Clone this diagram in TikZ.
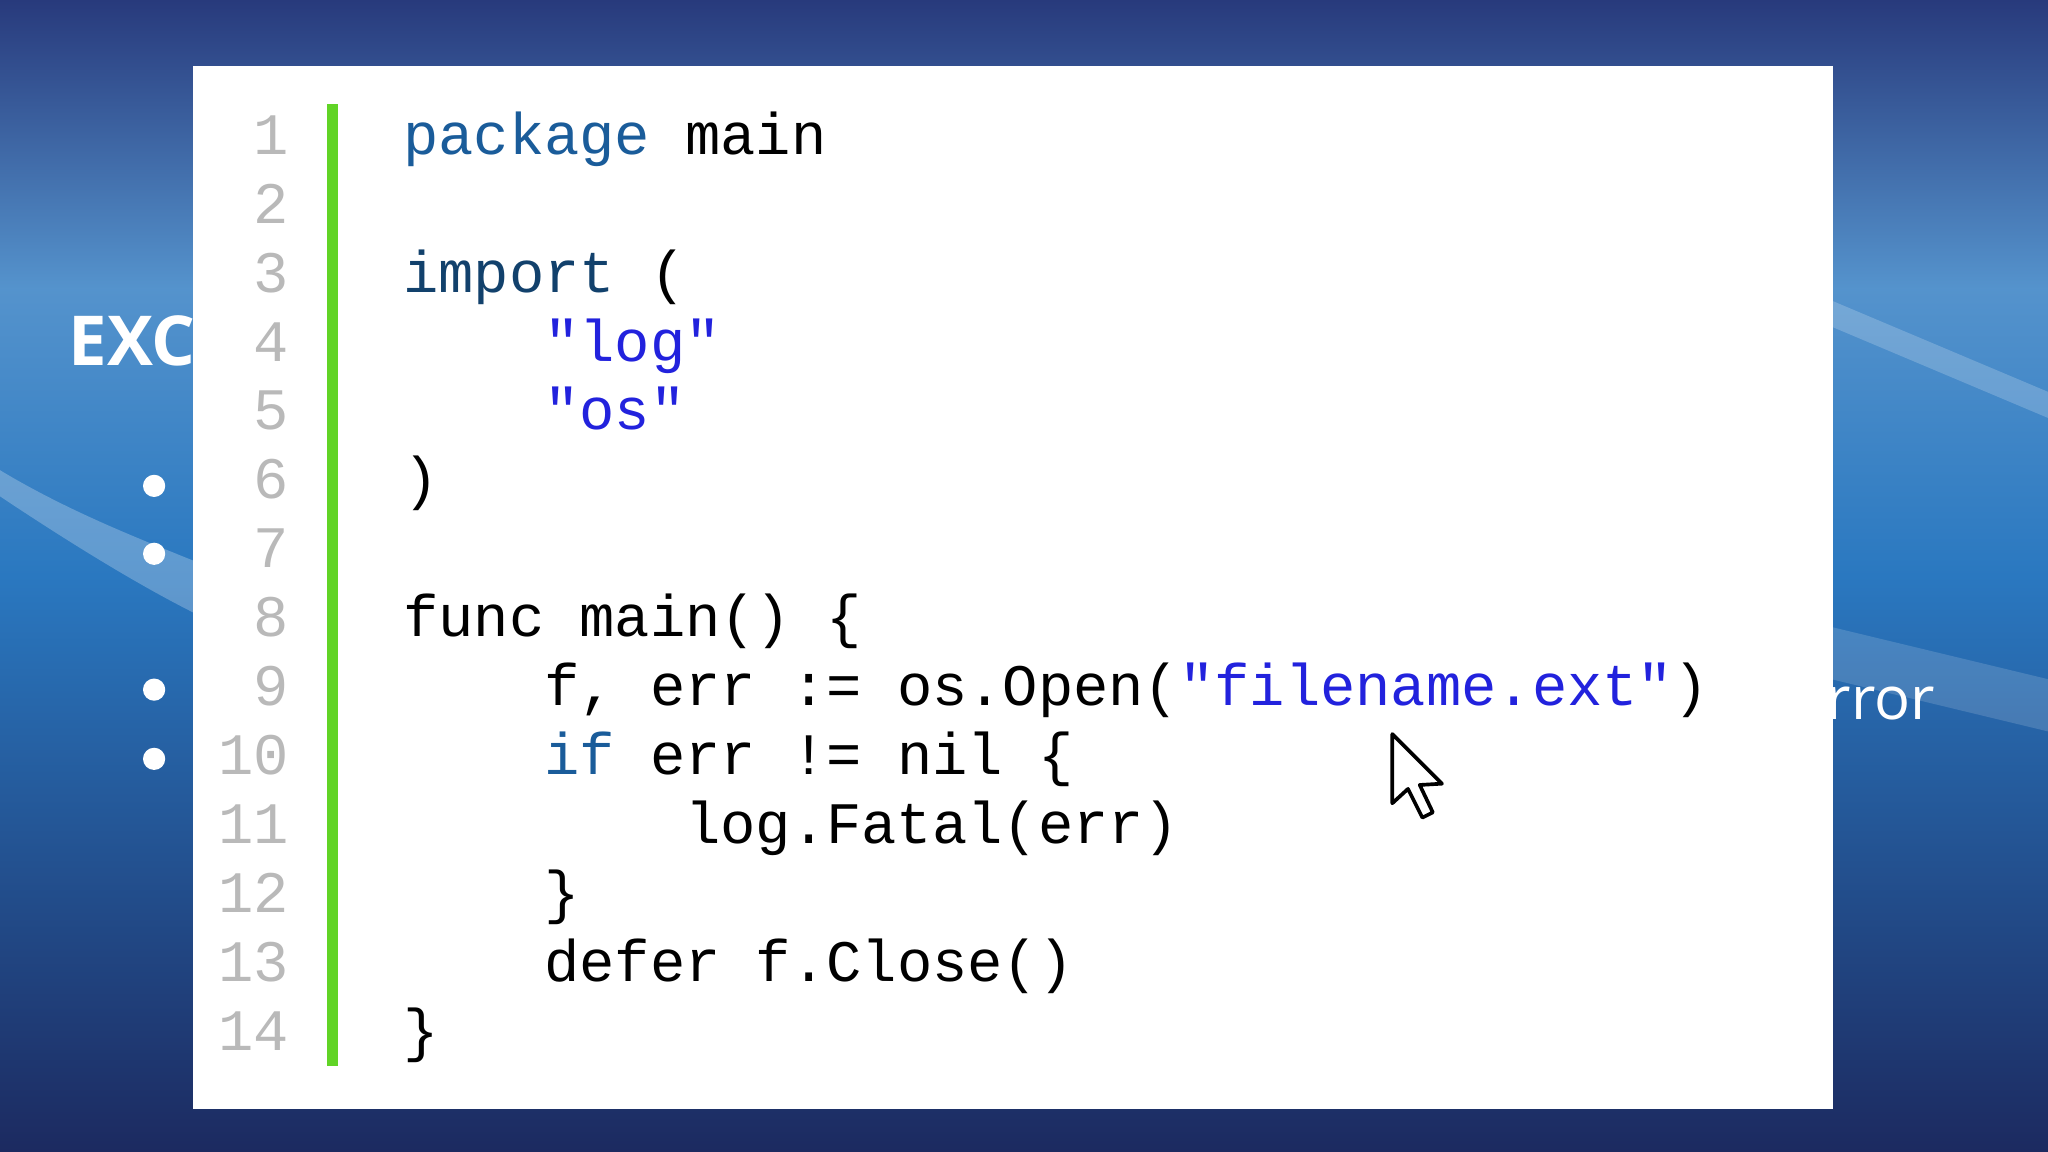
\documentclass[tikz,border=0pt]{standalone}
\usepackage{fontspec}
\setmainfont{Open Sans}
\newfontfamily\codefont{Liberation Mono}
\begin{document}
\begin{tikzpicture}[x=0.01cm,y=-0.01cm,
  ln/.style={anchor=base east,inner sep=0,font=\codefont\fontsize{12.8}{14}\selectfont,text=gray!55},
  cd/.style={anchor=base west,inner sep=0,font=\codefont\fontsize{12.8}{14}\selectfont,text=black},
  bul/.style={circle,fill=white,inner sep=0,minimum size=0.17cm}]
\definecolor{kw}{HTML}{1A5C9A}
\definecolor{st}{HTML}{2222DD}
\definecolor{bgtop}{HTML}{283A7C}
\definecolor{bgmid}{HTML}{2A78C0}
\definecolor{bgbot}{HTML}{1C2A60}
\useasboundingbox (0,0) rectangle (1568,882);
\shade[top color=bgtop,bottom color=bgmid,middle color=bgmid!80!white] (0,0) rectangle (1568,441);
\shade[top color=bgmid,bottom color=bgbot] (0,441) rectangle (1568,882);
\fill[white,opacity=0.25] (0,380) .. controls (60,420) and (110,450) .. (150,470) -- (150,430) .. controls (100,410) and (50,390) .. (0,360) -- cycle;
\fill[white,opacity=0.2] (1402,230) -- (1568,300) -- (1568,320) -- (1402,250) -- cycle;
\fill[white,opacity=0.15] (1402,480) -- (1568,520) -- (1568,560) -- (1402,520) -- cycle;
\node[anchor=base west,text=white,font=\bfseries\fontsize{15}{18}\selectfont,inner sep=0] (ex) at (52,280) {EXCEP};
\foreach \n/\yy in {b1/372,b2/424,b3/528,b4/581} \node[bul] (\n) at (118,\yy) {};
\node[anchor=base west,text=white,font=\fontsize{13}{16}\selectfont,inner sep=0] (rr) at (1398,551) {rror};
\node[fill=white,minimum width=12.55cm,minimum height=7.98cm,inner sep=0,anchor=north west] (panel) at (147,50) {};
\fill[green!55!lime!80!black!85!white] (250,80) rectangle (259,816);
\foreach \i in {1,...,14} \node[ln] (n\i) at (222,{105+(\i-1)*52.8+13}) {\i};
\newcommand\cl[3]{\node[cd] (c#1) at (#2,{105+(#1-1)*52.8+13}) {#3};}
\cl{1}{308}{\textcolor{kw}{package} main}
\cl{3}{308}{\textcolor{kw!70!black}{import} (}
\cl{4}{416}{\textcolor{st}{"log"}}
\cl{5}{416}{\textcolor{st}{"os"}}
\cl{6}{308}{)}
\cl{8}{308}{func main() \{}
\cl{9}{416}{f, err := os.Open(\textcolor{st}{"filename.ext"})}
\cl{10}{416}{\textcolor{kw}{if} err != nil \{}
\cl{11}{524}{log.Fatal(err)}
\cl{12}{416}{\}}
\cl{13}{416}{defer f.Close()}
\cl{14}{308}{\}}
\draw[fill=white,line width=0.8pt,line join=round] (1066,562) -- (1066,615) -- (1078,604) -- (1089,626) -- (1097,622) -- (1087,601) -- (1104,600) -- cycle;
\end{tikzpicture}
\end{document}
